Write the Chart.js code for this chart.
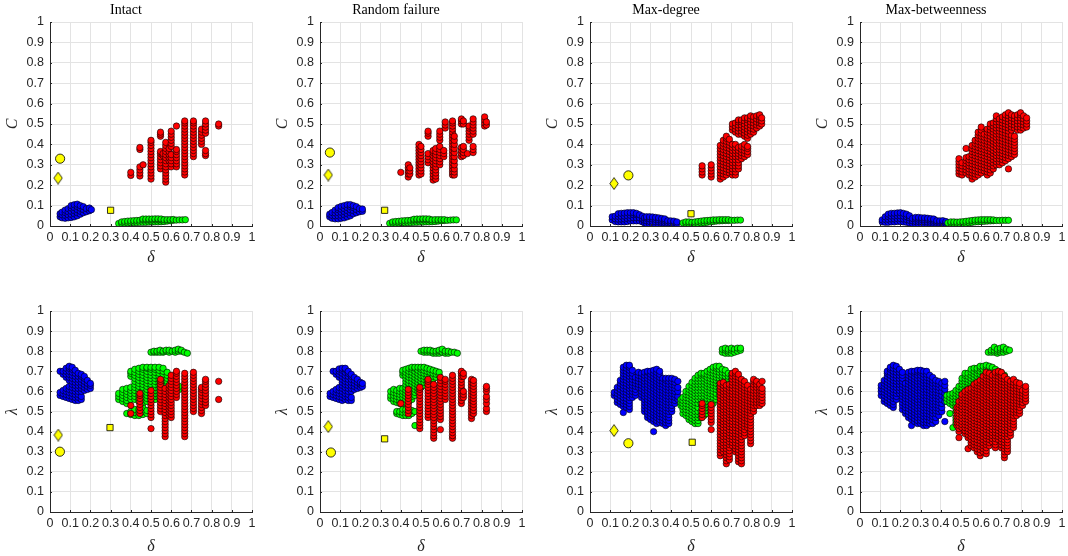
<!DOCTYPE html>
<html><head><meta charset="utf-8">
<script src="https://cdn.jsdelivr.net/npm/chart.js@4.4.1/dist/chart.umd.min.js"></script>
<style>
html,body{margin:0;padding:0;background:#fff;width:1068px;height:556px;overflow:hidden;}
#wrap{position:relative;width:1068px;height:556px;overflow:hidden;}
canvas{position:absolute;}
</style></head><body><div id="wrap"></div>
<script>
// ---------- axis ticks / labels ----------
const tickValues = [0,0.1,0.2,0.3,0.4,0.5,0.6,0.7,0.8,0.9,1];
const tickLabels = ['0','0.1','0.2','0.3','0.4','0.5','0.6','0.7','0.8','0.9','1'];
const panelTitles = ['Intact','Random failure','Max-degree','Max-betweenness'];
const xLabel = 'δ';
const yLabels = ['C','λ'];

// ---------- data: columns [x, y1, y2, ...] ----------
// Intact, C
const intactC_blue = [[0.05,0.045,0.06],[0.06,0.04,0.055,0.068],[0.075,0.038,0.052,0.066,0.078],[0.09,0.04,0.055,0.07,0.085],[0.105,0.042,0.057,0.072,0.088,0.1],[0.12,0.045,0.06,0.075,0.09,0.104],[0.135,0.05,0.065,0.08,0.095,0.107],[0.15,0.058,0.072,0.087,0.1],[0.165,0.065,0.08,0.095],[0.18,0.07,0.085],[0.195,0.075,0.088],[0.205,0.08]];
const intactC_green = [[0.34,0.012],[0.355,0.012,0.02],[0.37,0.014,0.022],[0.385,0.015,0.024],[0.40,0.016,0.025],[0.415,0.017,0.026],[0.43,0.017,0.027],[0.445,0.018,0.028],[0.46,0.018,0.029,0.034],[0.475,0.018,0.029,0.034],[0.49,0.019,0.029,0.034],[0.505,0.019,0.029,0.034],[0.52,0.02,0.03,0.035],[0.535,0.02,0.03,0.035],[0.55,0.021,0.03,0.034],[0.565,0.022,0.031],[0.58,0.024,0.031],[0.595,0.026,0.031],[0.61,0.028,0.032],[0.625,0.029],[0.64,0.03],[0.655,0.03],[0.67,0.031]];
const intactC_red = [[0.40,0.248,0.263],[0.445,0.245,0.26,0.275,0.29,0.375,0.385],[0.461,0.30],[0.50,0.23,0.245,0.26,0.275,0.29,0.305,0.32,0.335,0.35,0.365,0.38,0.395,0.41,0.42],[0.547,0.28,0.295,0.31,0.325,0.34,0.355,0.365,0.44,0.45,0.46],[0.56,0.345,0.355],[0.573,0.215,0.23,0.245,0.26,0.275,0.29,0.305,0.32,0.335,0.35,0.365,0.38,0.395,0.41],[0.59,0.32,0.335,0.35,0.365,0.38],[0.60,0.29,0.305,0.32,0.335,0.35,0.39,0.405,0.42,0.435,0.45,0.465],[0.626,0.29,0.305,0.32,0.335,0.35,0.365,0.375,0.49],[0.667,0.25,0.265,0.28,0.295,0.31,0.325,0.34,0.355,0.37,0.385,0.4,0.415,0.43,0.445,0.46,0.475,0.49,0.505,0.515],[0.71,0.34,0.355,0.37,0.385,0.4,0.415,0.43,0.445,0.46,0.475,0.49,0.505,0.515],[0.75,0.40,0.415,0.43,0.445,0.46,0.475],[0.77,0.345,0.355,0.37,0.455,0.47,0.485,0.5,0.515],[0.835,0.49,0.50]];
const intactC_marks = [[0.05,0.33],[0.04,0.235],[0.30,0.077]];

// Random failure, C
const randomC_blue = [[0.048,0.045,0.058],[0.06,0.038,0.052,0.066],[0.075,0.035,0.05,0.064,0.078],[0.09,0.035,0.05,0.065,0.08,0.09],[0.105,0.038,0.052,0.067,0.082,0.096],[0.12,0.04,0.055,0.07,0.085,0.1],[0.135,0.045,0.06,0.075,0.09,0.104],[0.15,0.05,0.065,0.08,0.095,0.105],[0.165,0.06,0.075,0.09,0.1],[0.18,0.065,0.08,0.095],[0.195,0.07,0.085],[0.21,0.072,0.083]];
const randomC_green = [[0.345,0.013],[0.36,0.013,0.02],[0.375,0.014,0.022],[0.39,0.015,0.023],[0.405,0.016,0.025],[0.42,0.016,0.026],[0.435,0.017,0.027],[0.45,0.017,0.028],[0.465,0.018,0.028,0.033],[0.48,0.018,0.029,0.034],[0.495,0.019,0.029,0.034],[0.51,0.019,0.03,0.035],[0.525,0.02,0.03,0.035],[0.54,0.02,0.03,0.034],[0.555,0.021,0.03],[0.57,0.022,0.031],[0.585,0.024,0.031],[0.6,0.026,0.031],[0.615,0.027,0.031],[0.63,0.028],[0.645,0.029],[0.66,0.03],[0.675,0.03]];
const randomC_red = [[0.40,0.263],[0.437,0.24,0.255,0.27,0.285,0.3],[0.445,0.255,0.27,0.285],[0.49,0.25,0.265,0.28,0.295,0.31,0.325,0.34,0.355,0.37,0.385,0.4],[0.50,0.255,0.27,0.285,0.3,0.315,0.33,0.345,0.36,0.375,0.39],[0.535,0.31,0.325,0.34,0.355,0.44,0.455,0.465],[0.56,0.225,0.24,0.255,0.27,0.285,0.3,0.315,0.33,0.345,0.36,0.37],[0.573,0.23,0.245,0.26,0.275,0.29,0.305,0.32,0.335,0.35,0.365,0.38],[0.593,0.3,0.315,0.33,0.345,0.36,0.375,0.39,0.42,0.435,0.45,0.465],[0.613,0.34,0.355,0.37],[0.62,0.48,0.495,0.51],[0.656,0.25,0.265,0.28,0.295,0.31,0.325,0.34,0.355,0.37,0.385,0.4,0.415,0.43,0.445,0.46,0.475,0.49,0.505,0.515],[0.665,0.25,0.265,0.28,0.3,0.32,0.34,0.36,0.38,0.4,0.42,0.44],[0.70,0.34,0.355,0.37,0.385,0.5,0.515,0.525],[0.71,0.345,0.36,0.375,0.39,0.5,0.515],[0.73,0.355],[0.738,0.42,0.435,0.45,0.465,0.48,0.49],[0.758,0.36,0.375,0.39,0.45,0.465,0.48,0.495,0.51,0.525],[0.815,0.49,0.505,0.52,0.535],[0.824,0.495,0.51]];
const randomC_marks = [[0.049,0.36],[0.041,0.25],[0.32,0.077]];

// Max-degree, C
const degreeC_blue = [[0.11,0.03,0.045],[0.125,0.022,0.035,0.048],[0.14,0.02,0.033,0.047,0.06],[0.155,0.02,0.033,0.047,0.062],[0.17,0.02,0.034,0.048,0.063],[0.185,0.022,0.036,0.05,0.065],[0.20,0.025,0.038,0.052,0.065],[0.215,0.025,0.04,0.055,0.065],[0.23,0.025,0.04,0.055,0.062],[0.245,0.025,0.04,0.055],[0.26,0.02,0.035,0.048],[0.27,0.015,0.028,0.04],[0.28,0.012,0.025,0.038,0.045],[0.295,0.01,0.022,0.035,0.045],[0.31,0.01,0.022,0.034,0.044],[0.325,0.008,0.02,0.032,0.042],[0.34,0.008,0.02,0.03,0.04],[0.355,0.008,0.018,0.028,0.037],[0.37,0.008,0.017,0.027,0.035],[0.385,0.008,0.017,0.026],[0.40,0.008,0.016,0.025],[0.415,0.01,0.018,0.024],[0.43,0.012,0.02]];
const degreeC_green = [[0.46,0.015],[0.475,0.013,0.02],[0.49,0.012,0.02],[0.505,0.01,0.018],[0.52,0.012,0.02],[0.535,0.013,0.022],[0.55,0.015,0.024],[0.565,0.016,0.026],[0.58,0.018,0.027],[0.595,0.02,0.028],[0.61,0.022,0.03],[0.625,0.024,0.03],[0.64,0.025,0.031],[0.655,0.026,0.031],[0.67,0.027,0.031],[0.685,0.027,0.031],[0.70,0.028],[0.715,0.028],[0.73,0.029],[0.745,0.029]];
const degreeC_red = [[0.555,0.25,0.265,0.28,0.295],[0.60,0.24,0.255,0.27,0.285,0.30],[0.645,0.23,0.245,0.26,0.275,0.29,0.305,0.32,0.335,0.35,0.365,0.38,0.395],[0.66,0.24,0.255,0.27,0.285,0.3,0.315,0.33,0.345,0.36,0.375,0.39,0.405,0.42],[0.675,0.25,0.265,0.28,0.295,0.31,0.325,0.34,0.355,0.37,0.385,0.4,0.415,0.43,0.44],[0.69,0.26,0.275,0.29,0.305,0.32,0.335,0.35,0.365,0.38,0.395,0.41,0.425],[0.705,0.25,0.265,0.28,0.295,0.31,0.325,0.34,0.355,0.37,0.385,0.4,0.47,0.485,0.5],[0.72,0.25,0.265,0.28,0.295,0.31,0.325,0.34,0.355,0.37,0.385,0.4,0.46,0.475,0.49,0.505],[0.735,0.28,0.295,0.31,0.325,0.34,0.355,0.37,0.385,0.45,0.465,0.48,0.495,0.51,0.52],[0.75,0.33,0.345,0.36,0.375,0.39,0.45,0.465,0.48,0.495,0.51,0.52],[0.765,0.34,0.355,0.37,0.385,0.4,0.44,0.455,0.47,0.485,0.5,0.515,0.53],[0.78,0.35,0.365,0.38,0.39,0.43,0.445,0.46,0.475,0.49,0.505,0.52,0.53],[0.795,0.45,0.465,0.48,0.495,0.51,0.525,0.54],[0.81,0.46,0.475,0.49,0.505,0.52,0.535],[0.825,0.48,0.495,0.51,0.525,0.54],[0.84,0.49,0.505,0.52,0.535,0.545],[0.85,0.5,0.515,0.53]];
const degreeC_marks = [[0.19,0.248],[0.119,0.208],[0.50,0.06]];

// Max-betweenness, C
const betweenC_blue = [[0.11,0.02,0.03],[0.125,0.018,0.032,0.045],[0.14,0.018,0.032,0.046,0.058],[0.155,0.02,0.034,0.048,0.062],[0.17,0.02,0.034,0.048,0.062],[0.185,0.022,0.036,0.05,0.064],[0.20,0.022,0.036,0.05,0.065],[0.215,0.02,0.034,0.048,0.062],[0.23,0.018,0.032,0.046,0.058],[0.245,0.015,0.028,0.04,0.05],[0.26,0.012,0.025,0.037],[0.275,0.01,0.022,0.034,0.042],[0.29,0.01,0.022,0.033,0.042],[0.305,0.01,0.021,0.032,0.04],[0.32,0.008,0.02,0.03,0.04],[0.335,0.008,0.019,0.03,0.038],[0.35,0.008,0.018,0.028,0.036],[0.365,0.008,0.018,0.027,0.034],[0.38,0.009,0.018,0.026],[0.395,0.01,0.018,0.025],[0.41,0.012,0.02,0.026],[0.425,0.014,0.022]];
const betweenC_green = [[0.435,0.015],[0.45,0.014,0.02],[0.465,0.013,0.02],[0.48,0.012,0.019],[0.495,0.012,0.02],[0.51,0.013,0.021],[0.525,0.014,0.023],[0.54,0.016,0.025],[0.555,0.018,0.027],[0.57,0.02,0.029],[0.585,0.021,0.03],[0.60,0.022,0.031],[0.615,0.023,0.031],[0.63,0.024,0.031],[0.645,0.025,0.031],[0.66,0.026,0.03],[0.675,0.027],[0.69,0.027],[0.705,0.028],[0.72,0.028],[0.735,0.028]];
const betweenC_red = [[0.49,0.255,0.27,0.285,0.30,0.315,0.33],[0.505,0.25,0.265,0.28,0.295,0.31],[0.525,0.26,0.275,0.29,0.305,0.32,0.335,0.38],[0.54,0.25,0.265,0.28,0.295,0.31,0.325,0.34],[0.555,0.23,0.245,0.26,0.275,0.29,0.305,0.32,0.335,0.35,0.365,0.38,0.395],[0.57,0.24,0.255,0.27,0.285,0.3,0.315,0.33,0.345,0.36,0.375,0.39,0.405,0.42],[0.585,0.25,0.265,0.28,0.295,0.31,0.325,0.34,0.355,0.37,0.385,0.4,0.415,0.43,0.445,0.46],[0.60,0.26,0.275,0.29,0.305,0.32,0.335,0.35,0.365,0.38,0.395,0.41,0.425,0.44,0.455,0.47,0.485],[0.615,0.27,0.285,0.3,0.315,0.33,0.345,0.36,0.375,0.39,0.405,0.42,0.435,0.45],[0.63,0.25,0.265,0.28,0.295,0.31,0.325,0.34,0.355,0.37,0.385,0.4,0.415,0.43,0.445,0.46,0.475],[0.645,0.26,0.275,0.29,0.305,0.32,0.335,0.35,0.365,0.38,0.395,0.41,0.425,0.44,0.455,0.47,0.485,0.5],[0.66,0.28,0.295,0.31,0.325,0.34,0.355,0.37,0.385,0.4,0.415,0.43,0.445,0.46,0.475,0.49,0.505],[0.675,0.3,0.315,0.33,0.345,0.36,0.375,0.39,0.405,0.42,0.435,0.45,0.465,0.48,0.495,0.51,0.525,0.54],[0.69,0.3,0.315,0.33,0.345,0.36,0.375,0.39,0.405,0.42,0.435,0.45,0.465,0.48,0.495,0.51,0.525],[0.705,0.31,0.325,0.34,0.355,0.37,0.385,0.4,0.415,0.43,0.445,0.46,0.475,0.49,0.505,0.52,0.535],[0.72,0.32,0.335,0.35,0.365,0.38,0.395,0.41,0.425,0.44,0.455,0.47,0.485,0.5,0.515,0.53,0.545],[0.735,0.28,0.33,0.345,0.36,0.375,0.39,0.405,0.42,0.435,0.45,0.465,0.48,0.495,0.51,0.525,0.54,0.555],[0.75,0.34,0.355,0.37,0.385,0.4,0.415,0.43,0.445,0.47,0.485,0.5,0.515,0.53,0.545],[0.765,0.35,0.365,0.38,0.395,0.41,0.425,0.44,0.48,0.495,0.51,0.525,0.54],[0.78,0.47,0.485,0.5,0.515,0.53,0.545],[0.795,0.47,0.485,0.5,0.515,0.53,0.545,0.555],[0.81,0.48,0.495,0.51,0.525,0.54],[0.825,0.485,0.5,0.515,0.53]];
const betweenC_marks = [];

// Intact, lambda
const intactL_blue = [[0.05,0.58,0.595,0.70],[0.065,0.575,0.59,0.605,0.685,0.70],[0.08,0.57,0.585,0.60,0.615,0.67,0.685,0.70,0.715],[0.095,0.565,0.58,0.595,0.61,0.625,0.655,0.67,0.685,0.70,0.715,0.725],[0.11,0.56,0.575,0.59,0.605,0.62,0.635,0.65,0.665,0.68,0.695,0.71,0.72],[0.125,0.555,0.57,0.585,0.6,0.615,0.63,0.645,0.66,0.675,0.69,0.705],[0.14,0.555,0.57,0.585,0.6,0.615,0.63,0.645,0.66,0.675,0.69],[0.155,0.56,0.575,0.6,0.615,0.63,0.645,0.66,0.675,0.685],[0.17,0.605,0.62,0.635,0.65,0.665,0.675],[0.185,0.61,0.625,0.64,0.655],[0.20,0.615,0.63,0.64]];
const intactL_green = [[0.34,0.56,0.575,0.59],[0.36,0.55,0.565,0.58,0.595,0.61],[0.38,0.49,0.54,0.555,0.57,0.585,0.6,0.615],[0.40,0.485,0.50,0.56,0.575,0.59,0.605,0.62,0.675,0.69,0.70],[0.42,0.48,0.495,0.51,0.56,0.575,0.59,0.605,0.62,0.635,0.65,0.665,0.68,0.695,0.71],[0.44,0.48,0.495,0.51,0.55,0.565,0.58,0.595,0.61,0.625,0.64,0.655,0.67,0.685,0.70,0.715],[0.46,0.485,0.50,0.52,0.545,0.56,0.575,0.59,0.605,0.62,0.635,0.65,0.665,0.68,0.695,0.71,0.72],[0.48,0.49,0.505,0.55,0.565,0.58,0.595,0.61,0.625,0.64,0.655,0.67,0.685,0.70,0.715,0.72],[0.50,0.56,0.575,0.59,0.605,0.62,0.635,0.65,0.665,0.68,0.695,0.71,0.72],[0.52,0.56,0.575,0.59,0.605,0.62,0.635,0.65,0.665,0.68,0.695,0.71,0.72],[0.54,0.57,0.585,0.6,0.615,0.63,0.645,0.66,0.675,0.69,0.705,0.72],[0.56,0.58,0.595,0.61,0.625,0.64,0.655,0.67,0.685,0.70,0.715],[0.58,0.59,0.605,0.62,0.635,0.65,0.665,0.68,0.695],[0.60,0.6,0.615,0.63,0.645,0.66],[0.62,0.6,0.615,0.63],[0.64,0.61,0.625],
  [0.50,0.795],[0.515,0.795,0.8],[0.53,0.795,0.8],[0.545,0.795,0.805],[0.56,0.795,0.8],[0.575,0.8,0.805],[0.59,0.795,0.805],[0.605,0.8],[0.62,0.795,0.805],[0.635,0.8,0.81],[0.65,0.8,0.805],[0.665,0.795],[0.68,0.79]];
const intactL_red = [[0.40,0.53,0.49],[0.445,0.49,0.505,0.52,0.535,0.55,0.565,0.58,0.59],[0.50,0.415,0.47,0.485,0.5,0.515,0.53,0.545,0.56,0.575,0.59,0.605],[0.547,0.50,0.515,0.53,0.545,0.56,0.575,0.59,0.605,0.62,0.635,0.65,0.66],[0.57,0.375,0.39,0.405,0.42,0.435,0.45,0.465,0.48,0.495,0.51,0.525,0.54,0.555,0.57,0.585,0.6,0.615],[0.59,0.48,0.495,0.51,0.525,0.54,0.555,0.57,0.585,0.6,0.615,0.63],[0.60,0.47,0.485,0.5,0.515,0.53,0.545,0.56,0.575,0.59,0.605,0.62,0.635,0.65,0.665,0.68],[0.626,0.57,0.585,0.6,0.615,0.63,0.645,0.66,0.675,0.69,0.70],[0.667,0.375,0.39,0.405,0.42,0.435,0.45,0.465,0.48,0.495,0.51,0.525,0.54,0.555,0.57,0.585,0.6,0.615,0.63,0.645,0.66,0.675,0.69],[0.71,0.50,0.515,0.53,0.545,0.56,0.575,0.59,0.605,0.62,0.635,0.65,0.665,0.68,0.695],[0.75,0.49,0.505,0.52,0.535,0.55,0.565,0.58,0.595,0.61,0.62],[0.77,0.53,0.545,0.56,0.575,0.59,0.605,0.62,0.635,0.65,0.66],[0.835,0.56,0.65]];
const intactL_marks = [[0.049,0.30],[0.041,0.383],[0.297,0.42]];

// Random failure, lambda
const randomL_blue = [[0.05,0.575,0.59],[0.065,0.57,0.585,0.60,0.70],[0.08,0.565,0.58,0.595,0.61,0.685,0.70],[0.095,0.56,0.575,0.59,0.605,0.62,0.67,0.685,0.70,0.712],[0.11,0.555,0.57,0.585,0.60,0.615,0.63,0.645,0.66,0.675,0.69,0.705,0.715],[0.125,0.56,0.575,0.59,0.605,0.62,0.635,0.65,0.665,0.68,0.695,0.71,0.715],[0.14,0.555,0.57,0.585,0.6,0.615,0.63,0.645,0.66,0.675,0.69,0.70],[0.155,0.555,0.57,0.6,0.615,0.63,0.645,0.66,0.675,0.685],[0.17,0.61,0.625,0.64,0.655,0.67],[0.185,0.615,0.63,0.645,0.66],[0.20,0.62,0.635,0.645],[0.21,0.625,0.64]];
const randomL_green = [[0.35,0.565,0.58,0.6],[0.365,0.55,0.565,0.58,0.595,0.61],[0.38,0.49,0.50,0.545,0.56,0.575,0.59,0.605],[0.395,0.485,0.50,0.54,0.555,0.57,0.585,0.6,0.615],[0.41,0.48,0.495,0.51,0.54,0.555,0.57,0.585,0.6,0.615,0.68,0.695,0.705],[0.425,0.48,0.495,0.51,0.545,0.56,0.575,0.59,0.605,0.62,0.635,0.65,0.665,0.68,0.695,0.71],[0.44,0.48,0.495,0.55,0.565,0.58,0.595,0.61,0.625,0.64,0.655,0.67,0.685,0.70,0.715],[0.455,0.49,0.505,0.56,0.575,0.59,0.605,0.62,0.635,0.65,0.665,0.68,0.695,0.71,0.72],[0.47,0.43,0.50,0.58,0.595,0.61,0.625,0.64,0.655,0.67,0.685,0.70,0.715,0.72],[0.485,0.6,0.615,0.63,0.645,0.66,0.675,0.69,0.705,0.72],[0.50,0.62,0.635,0.65,0.665,0.68,0.695,0.71,0.72],[0.515,0.63,0.645,0.66,0.675,0.69,0.705,0.72],[0.53,0.64,0.655,0.67,0.685,0.70,0.715],[0.545,0.65,0.665,0.68,0.695,0.71],[0.56,0.66,0.675,0.69,0.705],[0.575,0.67,0.685,0.70],[0.59,0.68,0.695],
  [0.50,0.80],[0.515,0.795,0.805],[0.53,0.795,0.805],[0.545,0.795,0.805],[0.56,0.79,0.80],[0.575,0.79,0.80],[0.59,0.79,0.80,0.805],[0.605,0.795,0.81],[0.62,0.79,0.80],[0.635,0.79,0.80],[0.65,0.795],[0.665,0.795],[0.68,0.79]];
const randomL_red = [[0.40,0.54],[0.437,0.49,0.505,0.52,0.535,0.55,0.565,0.58,0.595,0.61],[0.494,0.415,0.43,0.445,0.46,0.475,0.49,0.505,0.52,0.535,0.55,0.565,0.58,0.595,0.61,0.62],[0.535,0.47,0.485,0.5,0.515,0.53,0.545,0.56,0.575,0.59,0.605,0.62,0.635,0.65,0.66],[0.563,0.367,0.38,0.395,0.41,0.425,0.44,0.455,0.47,0.485,0.5,0.515,0.53,0.545,0.56,0.575,0.59,0.605,0.62,0.635],[0.596,0.41,0.46,0.475,0.49,0.505,0.52,0.535,0.55,0.565,0.58,0.595,0.61,0.625,0.64,0.655,0.67],[0.62,0.56,0.575,0.59,0.605,0.62,0.635,0.65,0.66],[0.656,0.367,0.38,0.395,0.41,0.425,0.44,0.455,0.47,0.485,0.5,0.515,0.53,0.545,0.56,0.575,0.59,0.605,0.62,0.635,0.65,0.665,0.68],[0.70,0.54,0.555,0.57,0.585,0.6,0.615,0.63,0.645,0.66,0.675,0.69,0.70],[0.71,0.57,0.585,0.6,0.675,0.69],[0.75,0.465,0.48,0.495,0.51,0.525,0.54,0.555,0.57,0.585,0.6,0.615,0.63,0.645,0.66],[0.76,0.49,0.505,0.52,0.535,0.55,0.565,0.58,0.595,0.61,0.625,0.64,0.655],[0.824,0.50,0.515,0.54,0.56,0.575,0.60,0.615,0.625]];
const randomL_marks = [[0.054,0.296],[0.041,0.425],[0.32,0.364]];

// Max-degree, lambda
const degreeL_blue = [[0.12,0.58,0.595],[0.135,0.545,0.56,0.575,0.59,0.605,0.62],[0.15,0.535,0.55,0.565,0.58,0.595,0.61,0.625,0.64,0.655],[0.165,0.495,0.525,0.54,0.555,0.57,0.585,0.6,0.615,0.63,0.645,0.66,0.675,0.69,0.705,0.72],[0.18,0.52,0.535,0.55,0.565,0.58,0.595,0.61,0.625,0.64,0.655,0.67,0.685,0.7,0.715,0.73],[0.195,0.51,0.525,0.54,0.555,0.57,0.585,0.6,0.615,0.63,0.645,0.66,0.675,0.69,0.705,0.72,0.73],[0.21,0.57,0.585,0.6,0.615,0.63,0.645,0.66,0.675,0.69,0.705],[0.225,0.58,0.595,0.61,0.625,0.64,0.655,0.67],[0.24,0.62,0.635,0.65,0.665,0.68,0.695],[0.255,0.57,0.585,0.6,0.615,0.63,0.645,0.66,0.675,0.69],[0.27,0.5,0.515,0.53,0.545,0.56,0.575,0.59,0.605,0.62,0.635,0.65,0.665,0.68,0.695],[0.285,0.47,0.485,0.5,0.515,0.53,0.545,0.56,0.575,0.59,0.605,0.62,0.635,0.65,0.665,0.68,0.695,0.70],[0.30,0.46,0.475,0.49,0.505,0.52,0.535,0.55,0.565,0.58,0.595,0.61,0.625,0.64,0.655,0.67,0.685,0.70],[0.315,0.40,0.45,0.465,0.48,0.495,0.51,0.525,0.54,0.555,0.57,0.585,0.6,0.615,0.63,0.645,0.66,0.675,0.69,0.705],[0.33,0.44,0.455,0.47,0.485,0.5,0.515,0.53,0.545,0.56,0.575,0.59,0.605,0.62,0.635,0.65,0.665,0.68,0.695,0.71],[0.345,0.445,0.46,0.475,0.49,0.505,0.52,0.535,0.55,0.565,0.58,0.595,0.61,0.625,0.64,0.655,0.67,0.685,0.70],[0.36,0.44,0.455,0.47,0.485,0.5,0.515,0.53,0.545,0.56,0.575,0.59,0.605,0.62,0.635,0.65,0.665],[0.375,0.43,0.445,0.46,0.475,0.49,0.505,0.52,0.535,0.55,0.565,0.58,0.595,0.61,0.625,0.64,0.655,0.665],[0.39,0.44,0.455,0.47,0.485,0.5,0.515,0.53,0.545,0.56,0.575,0.59,0.605,0.62,0.635,0.65,0.665],[0.405,0.5,0.515,0.53,0.545,0.56,0.575,0.59,0.605,0.62,0.635,0.65,0.665],[0.42,0.54,0.555,0.57,0.585,0.6,0.615,0.63,0.645,0.66],[0.435,0.56,0.575,0.6,0.62,0.65]];
const degreeL_green = [[0.45,0.53,0.545,0.56],[0.46,0.49,0.51,0.525,0.54,0.555,0.57],[0.475,0.48,0.495,0.51,0.525,0.54,0.555,0.57,0.585,0.6],[0.49,0.46,0.475,0.49,0.505,0.52,0.535,0.55,0.565,0.58,0.595,0.61,0.625],[0.505,0.45,0.465,0.48,0.495,0.51,0.525,0.54,0.555,0.57,0.585,0.6,0.615,0.63,0.645],[0.52,0.44,0.455,0.47,0.485,0.5,0.515,0.53,0.545,0.56,0.575,0.59,0.605,0.62,0.635,0.65,0.665],[0.535,0.44,0.455,0.47,0.485,0.5,0.52,0.54,0.56,0.575,0.59,0.605,0.62,0.635,0.65,0.665,0.68],[0.55,0.47,0.485,0.5,0.54,0.56,0.575,0.59,0.605,0.62,0.635,0.65,0.665,0.68,0.69],[0.565,0.48,0.495,0.51,0.525,0.54,0.56,0.575,0.59,0.605,0.62,0.635,0.65,0.665,0.68,0.69],[0.58,0.49,0.505,0.52,0.535,0.55,0.565,0.58,0.595,0.61,0.625,0.64,0.655,0.67,0.685,0.70],[0.595,0.5,0.515,0.53,0.545,0.56,0.575,0.59,0.605,0.62,0.635,0.65,0.665,0.68,0.695,0.71],[0.61,0.54,0.555,0.57,0.585,0.6,0.615,0.63,0.645,0.66,0.675,0.69,0.705,0.72],[0.625,0.56,0.575,0.59,0.61,0.625,0.64,0.655,0.67,0.685,0.70,0.715,0.725],[0.64,0.58,0.6,0.62,0.635,0.65,0.665,0.68,0.695,0.71,0.725],[0.655,0.62,0.635,0.65,0.665,0.68,0.695,0.71],[0.67,0.63,0.645,0.66,0.675,0.69,0.705],[0.685,0.63,0.645,0.66,0.675,0.69],[0.70,0.64,0.655,0.67,0.685],[0.715,0.65,0.665,0.675],[0.73,0.655,0.665],
  [0.655,0.795,0.81],[0.67,0.79,0.805,0.815],[0.685,0.79,0.80,0.81],[0.70,0.79,0.805,0.815],[0.715,0.795,0.81],[0.73,0.80,0.815],[0.745,0.805,0.815]];
const degreeL_red = [[0.555,0.47,0.485,0.5,0.515,0.53,0.54],[0.60,0.41,0.445,0.46,0.475,0.49,0.505,0.52,0.535],[0.645,0.28,0.295,0.31,0.325,0.34,0.355,0.37,0.385,0.4,0.415,0.43,0.445,0.46,0.475,0.49,0.505,0.52,0.535,0.55,0.565,0.58,0.595,0.61,0.625,0.64],[0.66,0.3,0.315,0.33,0.345,0.36,0.375,0.39,0.405,0.42,0.435,0.45,0.465,0.48,0.495,0.51,0.525,0.54,0.555,0.57,0.585,0.6,0.615,0.63,0.645],[0.675,0.24,0.255,0.27,0.285,0.3,0.315,0.33,0.345,0.36,0.375,0.39,0.405,0.42,0.435,0.45,0.465,0.48,0.495,0.51,0.525,0.54,0.555,0.57,0.585,0.6,0.615,0.63],[0.69,0.26,0.275,0.29,0.305,0.32,0.335,0.35,0.365,0.38,0.395,0.41,0.425,0.44,0.455,0.47,0.485,0.5,0.515,0.53,0.545,0.56,0.575,0.59,0.605,0.62,0.635],[0.705,0.33,0.345,0.36,0.375,0.39,0.405,0.42,0.435,0.45,0.465,0.48,0.495,0.51,0.525,0.54,0.555,0.57,0.585,0.6,0.615,0.63,0.645,0.66,0.675,0.69],[0.72,0.3,0.315,0.33,0.345,0.36,0.375,0.39,0.405,0.42,0.435,0.45,0.465,0.48,0.495,0.51,0.525,0.54,0.555,0.57,0.585,0.6,0.615,0.63,0.645,0.66,0.675,0.69,0.70],[0.735,0.25,0.265,0.28,0.295,0.31,0.325,0.34,0.355,0.37,0.385,0.4,0.415,0.43,0.445,0.46,0.475,0.49,0.505,0.52,0.535,0.55,0.565,0.58,0.595,0.61,0.625,0.64,0.655,0.67,0.685],[0.75,0.24,0.255,0.27,0.285,0.3,0.315,0.33,0.345,0.36,0.375,0.39,0.405,0.42,0.435,0.45,0.465,0.48,0.495,0.51,0.525,0.54,0.555,0.57,0.585,0.6,0.615,0.63,0.645,0.66],[0.765,0.38,0.395,0.41,0.425,0.44,0.455,0.47,0.485,0.5,0.515,0.53,0.545,0.56,0.575,0.59,0.605,0.62,0.635,0.65],[0.78,0.42,0.435,0.45,0.465,0.48,0.495,0.51,0.525,0.54,0.555,0.57,0.585,0.6,0.615,0.63],[0.795,0.34,0.355,0.37,0.385,0.4,0.415,0.43,0.445,0.46,0.475,0.49,0.505,0.52,0.535,0.55,0.565,0.58,0.595,0.61],[0.81,0.5,0.515,0.53,0.545,0.56,0.575,0.59,0.605,0.62,0.635,0.65,0.66],[0.825,0.53,0.545,0.56,0.575,0.59,0.605,0.62,0.635,0.65],[0.84,0.53,0.545,0.56,0.575,0.59,0.605,0.62,0.635],[0.852,0.54,0.555,0.57,0.585,0.6,0.615,0.65]];
const degreeL_marks = [[0.19,0.342],[0.119,0.405],[0.506,0.347]];

// Max-betweenness, lambda
const betweenL_blue = [[0.105,0.58,0.6,0.615,0.63],[0.12,0.55,0.565,0.58,0.595,0.61,0.625,0.64,0.655],[0.135,0.54,0.555,0.57,0.585,0.6,0.615,0.63,0.645,0.66,0.675,0.69,0.70],[0.15,0.53,0.545,0.56,0.575,0.59,0.605,0.62,0.635,0.65,0.665,0.68,0.695,0.71,0.72],[0.165,0.52,0.535,0.55,0.565,0.58,0.595,0.61,0.625,0.64,0.655,0.67,0.685,0.7,0.715,0.73],[0.18,0.56,0.575,0.59,0.605,0.62,0.635,0.65,0.665,0.68,0.695,0.71,0.725],[0.195,0.59,0.605,0.62,0.635,0.65,0.665,0.68,0.695,0.71],[0.21,0.51,0.53,0.545,0.56,0.575,0.59,0.605,0.62,0.635,0.65,0.665,0.68,0.695],[0.225,0.49,0.505,0.52,0.535,0.55,0.565,0.58,0.595,0.61,0.625,0.64],[0.24,0.47,0.485,0.5,0.515,0.53,0.545,0.56,0.575,0.59,0.605,0.62,0.635,0.65,0.665,0.68,0.695],[0.255,0.43,0.46,0.475,0.49,0.505,0.52,0.535,0.55,0.565,0.58,0.595,0.61,0.625,0.64,0.655,0.67,0.685,0.70],[0.27,0.45,0.465,0.48,0.495,0.51,0.525,0.54,0.555,0.57,0.585,0.6,0.615,0.63,0.645,0.66,0.675,0.69,0.70],[0.285,0.44,0.455,0.47,0.485,0.5,0.515,0.53,0.545,0.56,0.575,0.59,0.605,0.62,0.635,0.65,0.665,0.68,0.695,0.705],[0.30,0.44,0.455,0.47,0.485,0.5,0.515,0.53,0.545,0.56,0.575,0.59,0.605,0.62,0.635,0.65,0.665,0.68,0.695,0.705],[0.315,0.43,0.445,0.46,0.475,0.49,0.505,0.52,0.535,0.55,0.565,0.58,0.595,0.61,0.625,0.64,0.655,0.67,0.685,0.70],[0.33,0.43,0.445,0.46,0.475,0.49,0.505,0.52,0.535,0.55,0.565,0.58,0.595,0.61,0.625,0.64,0.655,0.67,0.685,0.70],[0.345,0.44,0.455,0.47,0.485,0.5,0.515,0.53,0.545,0.56,0.575,0.59,0.605,0.62,0.635,0.65,0.665,0.68],[0.36,0.44,0.46,0.475,0.49,0.505,0.52,0.535,0.55,0.565,0.58,0.595,0.61,0.625,0.64,0.655,0.67],[0.375,0.45,0.47,0.49,0.505,0.52,0.535,0.55,0.565,0.58,0.595,0.61,0.625,0.64,0.655],[0.39,0.48,0.5,0.515,0.53,0.545,0.56,0.575,0.59,0.605,0.62,0.635,0.65],[0.405,0.5,0.52,0.54,0.56,0.58,0.6,0.62,0.64],[0.42,0.45,0.55,0.57,0.59,0.61,0.63,0.65]];
const betweenL_green = [[0.43,0.55,0.565,0.58],[0.445,0.49,0.54,0.555,0.57,0.585],[0.46,0.42,0.53,0.545,0.56,0.575,0.59],[0.475,0.44,0.455,0.47,0.5,0.515,0.53,0.545,0.56,0.575,0.59,0.605],[0.49,0.46,0.475,0.49,0.505,0.52,0.535,0.55,0.565,0.58,0.595,0.61,0.625],[0.505,0.47,0.485,0.5,0.515,0.53,0.545,0.56,0.575,0.59,0.605,0.62,0.635,0.65,0.665],[0.52,0.5,0.515,0.53,0.545,0.56,0.575,0.59,0.605,0.62,0.635,0.65,0.665,0.68,0.69],[0.535,0.54,0.555,0.57,0.585,0.6,0.615,0.63,0.645,0.66,0.675,0.69],[0.55,0.56,0.575,0.59,0.605,0.62,0.635,0.65,0.665,0.68,0.695,0.71],[0.565,0.58,0.595,0.61,0.625,0.64,0.655,0.67,0.685,0.70,0.715],[0.58,0.6,0.615,0.63,0.645,0.66,0.675,0.69,0.705,0.715],[0.595,0.61,0.625,0.64,0.655,0.67,0.685,0.70,0.715,0.725],[0.61,0.62,0.635,0.65,0.665,0.68,0.695,0.71,0.725],[0.625,0.63,0.645,0.66,0.675,0.69,0.705,0.72,0.73],[0.64,0.64,0.655,0.67,0.685,0.70,0.715,0.725],[0.655,0.65,0.665,0.68,0.695,0.71,0.72],[0.67,0.655,0.67,0.685,0.70,0.71],[0.685,0.66,0.675,0.69,0.70],[0.70,0.665,0.68,0.69],[0.715,0.67,0.68],
  [0.635,0.795],[0.65,0.795,0.805],[0.665,0.795,0.805,0.82],[0.68,0.79,0.80,0.81],[0.695,0.795,0.805,0.815],[0.71,0.795,0.81,0.82],[0.725,0.80,0.81],[0.74,0.805]];
const betweenL_red = [[0.48,0.43,0.445,0.46,0.475,0.49,0.505,0.52],[0.49,0.37,0.4,0.415,0.43,0.445,0.46,0.475,0.49,0.505,0.52,0.535,0.55],[0.505,0.42,0.435,0.45,0.465,0.48,0.495,0.51,0.525,0.54,0.555,0.57,0.585],[0.52,0.39,0.405,0.42,0.435,0.45,0.465,0.48,0.495,0.51,0.525,0.54,0.555,0.57,0.585,0.6],[0.535,0.315,0.37,0.385,0.4,0.415,0.43,0.445,0.46,0.475,0.49,0.505,0.52,0.535,0.55,0.565,0.58,0.595,0.61],[0.55,0.33,0.345,0.36,0.375,0.39,0.405,0.42,0.435,0.45,0.465,0.48,0.495,0.51,0.525,0.54,0.555,0.57,0.585,0.6,0.615],[0.565,0.32,0.335,0.35,0.365,0.38,0.395,0.41,0.425,0.44,0.455,0.47,0.485,0.5,0.515,0.53,0.545,0.56,0.575,0.59,0.605,0.62,0.635],[0.58,0.3,0.315,0.33,0.345,0.36,0.375,0.39,0.405,0.42,0.435,0.45,0.465,0.48,0.495,0.51,0.525,0.54,0.555,0.57,0.585,0.6,0.615,0.63,0.645],[0.595,0.28,0.295,0.31,0.325,0.34,0.355,0.37,0.385,0.4,0.415,0.43,0.445,0.46,0.475,0.49,0.505,0.52,0.535,0.55,0.565,0.58,0.595,0.61,0.625,0.64,0.655],[0.61,0.3,0.315,0.33,0.345,0.36,0.375,0.39,0.405,0.42,0.435,0.45,0.465,0.48,0.495,0.51,0.525,0.54,0.555,0.57,0.585,0.6,0.615,0.63,0.645,0.66,0.675],[0.625,0.29,0.305,0.32,0.335,0.35,0.365,0.38,0.395,0.41,0.425,0.44,0.455,0.47,0.485,0.5,0.515,0.53,0.545,0.56,0.575,0.59,0.605,0.62,0.635,0.65,0.665,0.68,0.695],[0.64,0.33,0.345,0.36,0.375,0.39,0.405,0.42,0.435,0.45,0.465,0.48,0.495,0.51,0.525,0.54,0.555,0.57,0.585,0.6,0.615,0.63,0.645,0.66,0.675,0.69],[0.655,0.35,0.365,0.38,0.395,0.41,0.425,0.44,0.455,0.47,0.485,0.5,0.515,0.53,0.545,0.56,0.575,0.59,0.605,0.62,0.635,0.65,0.665,0.68],[0.67,0.32,0.335,0.35,0.365,0.38,0.395,0.41,0.425,0.44,0.455,0.47,0.485,0.5,0.515,0.53,0.545,0.56,0.575,0.59,0.605,0.62,0.635,0.65,0.665,0.68,0.695],[0.685,0.36,0.375,0.39,0.405,0.42,0.435,0.45,0.465,0.48,0.495,0.51,0.525,0.54,0.555,0.57,0.585,0.6,0.615,0.63,0.645,0.66,0.675,0.69,0.70],[0.70,0.32,0.335,0.35,0.365,0.38,0.395,0.41,0.425,0.44,0.455,0.47,0.485,0.5,0.515,0.53,0.545,0.56,0.575,0.59,0.605,0.62,0.635,0.65,0.665,0.68,0.695],[0.715,0.27,0.285,0.3,0.315,0.33,0.345,0.36,0.375,0.39,0.405,0.42,0.435,0.45,0.465,0.48,0.495,0.51,0.525,0.54,0.555,0.57,0.585,0.6,0.615,0.63,0.645,0.66,0.675],[0.73,0.3,0.315,0.33,0.345,0.36,0.375,0.39,0.405,0.42,0.435,0.45,0.465,0.48,0.495,0.51,0.525,0.54,0.555,0.57,0.585,0.6,0.615,0.63,0.645,0.66],[0.745,0.38,0.395,0.41,0.425,0.44,0.455,0.47,0.485,0.5,0.515,0.53,0.545,0.56,0.575,0.59,0.605,0.62,0.635,0.65],[0.76,0.42,0.435,0.45,0.465,0.48,0.495,0.51,0.525,0.54,0.555,0.57,0.585,0.6,0.615,0.63,0.645,0.66],[0.775,0.48,0.495,0.51,0.525,0.54,0.555,0.57,0.585,0.6,0.615,0.63,0.645],[0.79,0.49,0.505,0.52,0.535,0.55,0.565,0.58,0.595,0.61,0.625,0.64],[0.805,0.53,0.545,0.56,0.575,0.59,0.605],[0.82,0.55,0.565,0.58,0.595,0.61,0.625]];
const betweenL_marks = [];

// ---------- panel wiring ----------
const panels = [
  {row:0,col:0,title:panelTitles[0],ylab:yLabels[0],blue:intactC_blue,green:intactC_green,red:intactC_red,marks:intactC_marks},
  {row:0,col:1,title:panelTitles[1],ylab:yLabels[0],blue:randomC_blue,green:randomC_green,red:randomC_red,marks:randomC_marks},
  {row:0,col:2,title:panelTitles[2],ylab:yLabels[0],blue:degreeC_blue,green:degreeC_green,red:degreeC_red,marks:degreeC_marks},
  {row:0,col:3,title:panelTitles[3],ylab:yLabels[0],blue:betweenC_blue,green:betweenC_green,red:betweenC_red,marks:betweenC_marks},
  {row:1,col:0,title:'',ylab:yLabels[1],blue:intactL_blue,green:intactL_green,red:intactL_red,marks:intactL_marks},
  {row:1,col:1,title:'',ylab:yLabels[1],blue:randomL_blue,green:randomL_green,red:randomL_red,marks:randomL_marks},
  {row:1,col:2,title:'',ylab:yLabels[1],blue:degreeL_blue,green:degreeL_green,red:degreeL_red,marks:degreeL_marks},
  {row:1,col:3,title:'',ylab:yLabels[1],blue:betweenL_blue,green:betweenL_green,red:betweenL_red,marks:betweenL_marks}
];

function pts(cols){const out=[];for(const c of cols){for(let i=1;i<c.length;i++)out.push({x:c[0],y:c[i]});}return out;}

// tall diamond marker
const dia=document.createElement('canvas');dia.width=10;dia.height=13;
(function(){const g=dia.getContext('2d');g.beginPath();g.moveTo(5,0.6);g.lineTo(9.2,6.5);g.lineTo(5,12.4);g.lineTo(0.8,6.5);g.closePath();g.fillStyle='#ffff00';g.fill();g.lineWidth=0.8;g.strokeStyle='#000';g.stroke();})();

const colLeft=[0,270,540,810];
const rowTop=[0,280];
const rowH=[270,276];
const wrap=document.getElementById('wrap');
const axisColor='#262626';
const gridColor='#e3e3e3';

// small inward tick marks (MATLAB style), placed via the chart's own scales
const innerTicks={id:'innerTicks',afterDraw(chart){
  const {ctx,chartArea:a,scales:{x,y}}=chart;ctx.save();ctx.strokeStyle=axisColor;ctx.lineWidth=1;ctx.beginPath();
  tickValues.forEach(v=>{const px=Math.round(x.getPixelForValue(v))+0.5;ctx.moveTo(px,a.bottom);ctx.lineTo(px,a.bottom-2);
    const py=Math.round(y.getPixelForValue(v))+0.5;ctx.moveTo(a.left,py);ctx.lineTo(a.left+2,py);});
  ctx.stroke();ctx.restore();}};

panels.forEach(p=>{
  const cv=document.createElement('canvas');
  cv.width=270;cv.height=rowH[p.row];
  cv.style.left=colLeft[p.col]+'px';cv.style.top=rowTop[p.row]+'px';
  cv.style.width='270px';cv.style.height=rowH[p.row]+'px';
  wrap.appendChild(cv);
  const common={showLine:false,borderColor:'#000',borderWidth:0.6,pointRadius:3.2,pointHoverRadius:3.2};
  const ds=[
    Object.assign({},common,{data:pts(p.blue),backgroundColor:'#0000ff',order:4}),
    Object.assign({},common,{data:pts(p.green),backgroundColor:'#00ff00',order:3}),
    Object.assign({},common,{data:pts(p.red),backgroundColor:'#ff0000',order:2})
  ];
  if(p.marks.length){
    ds.push({data:[{x:p.marks[0][0],y:p.marks[0][1]}],pointStyle:'circle',pointRadius:4.6,backgroundColor:'#ffff00',borderColor:'#000',borderWidth:0.8,order:1});
    ds.push({data:[{x:p.marks[1][0],y:p.marks[1][1]}],pointStyle:dia,pointRadius:5,order:1});
    ds.push({data:[{x:p.marks[2][0],y:p.marks[2][1]}],pointStyle:'rect',pointRadius:4.4,backgroundColor:'#ffff00',borderColor:'#000',borderWidth:0.8,order:1});
  }
  const tickFont={family:'"Liberation Sans", Arial, Helvetica, sans-serif',size:12.5};
  const titleFont={family:'"Liberation Serif", "DejaVu Serif", serif',size:16,style:'italic',lineHeight:1};
  new Chart(cv,{
    type:'scatter',
    data:{datasets:ds},
    plugins:[innerTicks],
    options:{
      responsive:false,animation:false,devicePixelRatio:1,
      events:[],
      layout:{padding:{top:p.row===0?0:31,right:18,left:0,bottom:0}},
      plugins:{
        legend:{display:false},tooltip:{enabled:false},
        title:{display:p.row===0,text:p.title,color:'#000',
          font:{family:'"Liberation Serif", "DejaVu Serif", serif',size:14,weight:'normal',lineHeight:'16px'},
          padding:{top:2,bottom:4}}
      },
      scales:{
        x:{type:'linear',min:0,max:1,
          afterBuildTicks:s=>{s.ticks=tickValues.map(v=>({value:v}));},
          ticks:{autoSkip:false,maxRotation:0,minRotation:0,padding:4,color:axisColor,font:tickFont,callback:(v,i)=>tickLabels[i]},
          grid:{color:gridColor,drawTicks:false,lineWidth:1},
          border:{display:true,color:axisColor,width:1},
          title:{display:true,text:xLabel,color:axisColor,font:titleFont,padding:{top:0,bottom:p.row===0?4:1}},
          afterFit:s=>{s.height=44;}
        },
        y:{type:'linear',min:0,max:1,
          afterBuildTicks:s=>{s.ticks=tickValues.map(v=>({value:v}));},
          ticks:{autoSkip:false,padding:6,color:axisColor,font:tickFont,callback:(v,i)=>tickLabels[i]},
          grid:{color:gridColor,drawTicks:false,lineWidth:1},
          border:{display:true,color:axisColor,width:1},
          title:{display:true,text:p.ylab,color:axisColor,font:titleFont,padding:{top:5,bottom:0}},
          afterFit:s=>{s.width=50;}
        }
      }
    }
  });
});
</script>
</body></html>
